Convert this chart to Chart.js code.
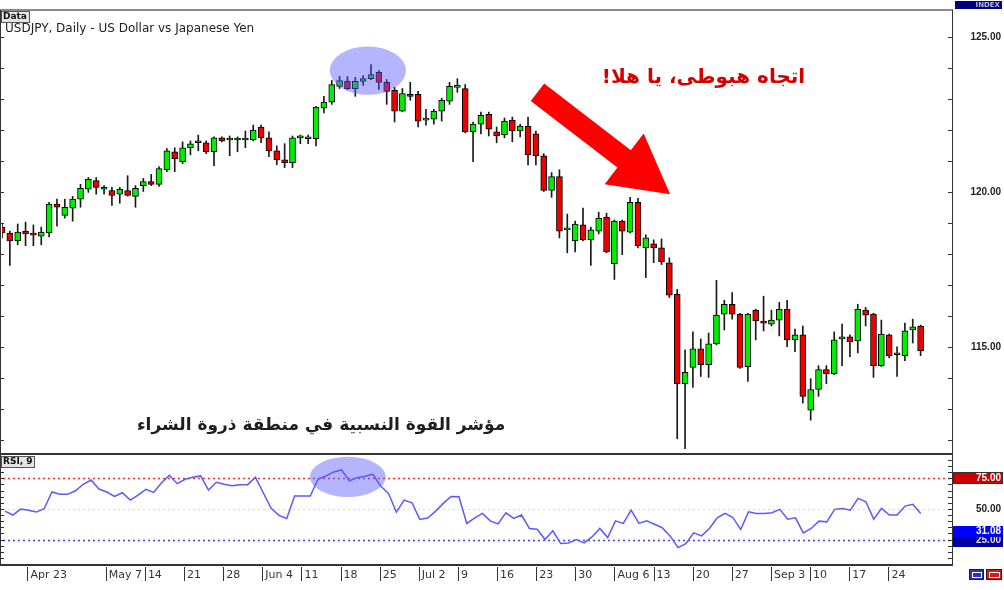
<!DOCTYPE html>
<html lang="en">
<head>
<meta charset="UTF-8">
<title>USDJPY, Daily</title>
<script src="https://cdn.jsdelivr.net/npm/chart.js"></script>
<style>
    body {
        margin: 0;
        padding: 0;
        background: #fff;
        width: 1004px;
        height: 590px;
        overflow: hidden;
        position: relative;
    }
    #priceChart { position: absolute; left: 0; top: 0; }
    #rsiChart { position: absolute; left: 0; top: 454px; }
</style>
</head>
<body>
<canvas id="priceChart" width="1004" height="455"></canvas>
<canvas id="rsiChart" width="1004" height="136"></canvas>
<script>
// trading days shown on the chart
var dates = [
    'Apr 18','Apr 19','Apr 20',
    'Apr 23','Apr 24','Apr 25','Apr 26','Apr 27',
    'Apr 30','May 1','May 2','May 3','May 4',
    'May 7','May 8','May 9','May 10','May 11',
    'May 14','May 15','May 16','May 17','May 18',
    'May 21','May 22','May 23','May 24','May 25',
    'May 28','May 29','May 30','May 31','Jun 1',
    'Jun 4','Jun 5','Jun 6','Jun 7','Jun 8',
    'Jun 11','Jun 12','Jun 13','Jun 14','Jun 15',
    'Jun 18','Jun 19','Jun 20','Jun 21','Jun 22',
    'Jun 25','Jun 26','Jun 27','Jun 28','Jun 29',
    'Jul 2','Jul 3','Jul 4','Jul 5','Jul 6',
    'Jul 9','Jul 10','Jul 11','Jul 12','Jul 13',
    'Jul 16','Jul 17','Jul 18','Jul 19','Jul 20',
    'Jul 23','Jul 24','Jul 25','Jul 26','Jul 27',
    'Jul 30','Jul 31','Aug 1','Aug 2','Aug 3',
    'Aug 6','Aug 7','Aug 8','Aug 9','Aug 10',
    'Aug 13','Aug 14','Aug 15','Aug 16','Aug 17',
    'Aug 20','Aug 21','Aug 22','Aug 23','Aug 24',
    'Aug 27','Aug 28','Aug 29','Aug 30','Aug 31',
    'Sep 3','Sep 4','Sep 5','Sep 6','Sep 7',
    'Sep 10','Sep 11','Sep 12','Sep 13','Sep 14',
    'Sep 17','Sep 18','Sep 19','Sep 20','Sep 21',
    'Sep 24','Sep 25','Sep 26','Sep 27','Sep 28'
];

var opens = [
    118.88,118.69,118.43,118.75,118.64,118.59,118.69,119.62,119.26,119.49,
    119.78,120.10,120.38,120.10,120.06,119.94,120.06,119.87,120.22,120.35,
    120.26,120.73,121.31,120.99,121.44,121.60,121.60,121.31,121.76,121.69,
    121.69,121.69,121.69,122.11,121.76,121.34,121.05,120.96,121.76,121.73,
    121.73,122.72,122.91,123.42,123.58,123.35,123.58,123.67,123.87,123.55,
    123.29,122.62,123.16,123.16,122.33,122.36,122.62,122.94,123.39,123.35,
    121.95,122.20,122.52,121.95,121.85,122.33,121.98,122.14,121.89,121.18,
    120.06,120.51,118.79,118.43,118.95,118.47,118.75,119.20,117.70,119.07,
    118.72,119.68,118.21,118.34,118.21,117.73,116.71,113.83,114.35,114.95,
    114.44,115.11,116.07,116.39,116.07,114.38,116.20,115.85,115.75,115.88,
    116.23,115.24,115.40,112.97,113.64,114.28,114.15,115.27,115.34,115.21,
    116.20,116.07,114.41,115.40,114.76,114.73,115.56,115.69
];
var highs = [
    118.98,118.75,118.98,119.04,118.95,118.88,119.68,119.78,119.78,119.87,
    120.26,120.48,120.48,120.22,120.16,120.16,120.54,120.22,120.45,120.58,
    120.83,121.41,121.44,121.63,121.66,121.85,121.66,121.79,121.79,121.82,
    121.79,121.98,122.17,122.17,121.95,121.50,121.57,121.82,121.85,121.85,
    122.78,123.10,123.61,123.74,123.74,123.71,123.77,124.12,123.93,123.64,
    123.39,123.35,123.55,123.26,122.68,122.68,123.04,123.55,123.67,123.48,
    122.27,122.59,122.59,122.11,122.40,122.43,122.20,122.43,121.98,121.25,
    120.64,120.73,119.30,119.07,119.49,118.88,119.36,119.33,119.11,119.11,
    119.84,119.81,118.63,118.47,118.50,117.89,116.87,114.92,115.50,115.27,
    115.46,117.16,116.52,116.77,116.10,116.10,116.23,116.65,116.20,116.45,
    116.52,115.59,115.69,113.99,114.41,114.41,115.50,115.75,115.40,116.39,
    116.29,116.10,115.88,115.43,115.02,115.78,115.91,115.72
];
var lows = [
    118.53,117.64,118.31,118.28,118.28,118.31,118.56,118.91,119.17,119.07,
    119.52,120.00,119.94,119.94,119.58,119.65,119.88,119.52,120.03,120.22,
    120.19,120.67,120.67,120.93,121.21,121.34,121.25,120.86,121.63,121.18,
    121.31,121.44,121.66,121.60,121.15,120.89,120.80,120.80,121.57,121.57,
    121.50,122.56,122.84,123.35,123.32,123.10,123.45,123.64,123.32,122.84,
    122.27,122.60,122.97,122.11,122.17,122.20,122.30,122.84,123.23,121.92,
    120.99,121.89,121.82,121.60,121.76,121.63,121.79,120.89,120.89,120.03,
    119.84,118.53,118.05,118.08,118.43,117.64,118.66,118.05,117.19,117.99,
    118.69,118.21,117.25,117.73,117.67,116.61,112.05,111.50,113.71,114.06,
    114.03,115.08,115.56,115.91,114.32,113.90,115.24,115.53,115.69,115.37,
    115.02,114.86,113.20,112.65,113.42,113.83,114.12,114.41,114.70,114.82,
    115.69,114.03,114.38,114.66,114.06,114.57,115.14,114.73
];
var closes = [
    118.69,118.43,118.72,118.66,118.62,118.72,119.62,119.52,119.52,119.78,
    120.13,120.42,120.16,120.10,119.90,120.10,119.90,120.13,120.35,120.26,
    120.77,121.34,121.09,121.44,121.57,121.66,121.31,121.76,121.66,121.69,
    121.69,121.69,122.01,121.76,121.34,121.05,120.96,121.76,121.76,121.73,
    122.75,122.91,123.48,123.61,123.35,123.58,123.67,123.80,123.55,123.26,
    122.62,123.19,123.10,122.30,122.33,122.62,122.97,123.42,123.39,121.95,
    122.20,122.49,122.04,121.82,122.30,121.98,122.14,121.21,121.18,120.06,
    120.51,118.75,118.79,118.98,118.47,118.79,119.17,118.08,119.07,118.75,
    119.68,118.28,118.53,118.21,117.76,116.68,113.83,114.19,114.95,114.44,
    115.11,116.04,116.39,116.07,114.35,116.07,115.85,115.78,115.88,116.23,
    115.24,115.40,113.42,113.64,114.28,114.15,115.24,115.34,115.18,116.23,
    116.04,114.41,115.43,114.73,114.76,115.53,115.66,114.89
];

// RSI(9)
var rsi = [
    48.2,45.0,49.8,48.8,47.4,50.1,63.8,61.9,61.9,64.8,
    70.1,73.6,66.2,63.8,60.2,63.2,57.2,61.3,66.0,63.5,
    71.4,77.4,70.6,74.2,75.8,76.9,65.4,71.7,70.1,68.9,
    69.8,69.8,75.8,63.2,50.4,44.7,42.2,60.5,60.5,60.5,
    74.4,76.9,80.2,81.8,73.0,75.5,76.6,78.3,68.7,62.7,
    47.4,57.2,55.0,41.4,42.5,48.0,54.5,60.2,59.9,38.1,
    42.5,46.3,40.2,37.8,46.8,42.2,45.0,34.0,33.4,25.0,
    32.1,21.7,22.2,25.0,22.2,27.1,34.0,26.6,40.2,38.1,
    49.0,38.1,40.2,37.5,34.5,27.7,18.4,21.7,30.4,28.0,
    34.0,42.7,46.3,43.0,33.2,47.6,46.3,46.3,46.8,49.6,
    41.6,42.7,30.4,34.0,40.0,39.4,49.6,50.4,49.0,58.6,
    55.8,41.6,50.4,45.0,45.0,52.3,53.7,46.3
];
var rsiLevels = [75, 50, 25];
var rsiLast = 31.08;

// x axis labels (weekly)
var tickDates = ['Apr 23','May 7','May 14','May 21','May 28','Jun 4','Jun 11','Jun 18','Jun 25',
    'Jul 2','Jul 9','Jul 16','Jul 23','Jul 30','Aug 6','Aug 13','Aug 20','Aug 27',
    'Sep 3','Sep 10','Sep 17','Sep 24'];
var tickLabels = ['Apr 23','May 7','14','21','28','Jun 4','11','18','25',
    'Jul 2','9','16','23','30','Aug 6','13','20','27',
    'Sep 3','10','17','24'];

// empty slots on the right (chart shift)
var labels = dates.concat(['', '', '', '']);

var GREEN = '#00ee00';
var RED = '#ee0000';
var bodyColors = opens.map(function (o, i) { return closes[i] >= o ? GREEN : RED; });

// annotations, anchored in data units (category index, price / rsi value)
var notes = {
    topEllipse: { x: 46.6, y: 123.93, rx: 4.85, ry: 0.78 },
    rsiEllipse: { x: 43.8, y: 76.1, rx: 4.85, ry: 16.4 },
    arrowFrom: { x: 68.2, y: 123.23 },
    arrowTo: { x: 85.1, y: 119.94 },
    trendText: { x: 102.3, y: 123.71, text: 'اتجاه هبوطى، يا هلا!' },
    rsiText: { x: 64.1, y: 112.46, text: 'مؤشر القوة النسبية في منطقة ذروة الشراء' }
};

var RIGHT_EDGE = 952;
var NUM_FONT = 'bold 10px "Liberation Sans", Arial, sans-serif';

function drawBox(ctx, x, y, w, h, fill, stroke) {
    ctx.fillStyle = fill;
    ctx.fillRect(x, y, w, h);
    if (stroke) {
        ctx.strokeStyle = stroke;
        ctx.lineWidth = 1;
        ctx.strokeRect(x + 0.5, y + 0.5, w - 1, h - 1);
    }
}

function drawEllipse(chart, e) {
    var xs = chart.scales.x, ys = chart.scales.y, ctx = chart.ctx;
    var cx = xs.getPixelForValue(e.x);
    var cy = ys.getPixelForValue(e.y);
    var rx = Math.abs(xs.getPixelForValue(e.x + e.rx) - cx);
    var ry = Math.abs(ys.getPixelForValue(e.y + e.ry) - cy);
    ctx.save();
    ctx.fillStyle = 'rgba(90, 90, 255, 0.45)';
    ctx.beginPath();
    ctx.ellipse(cx, cy, rx, ry, 0, 0, Math.PI * 2);
    ctx.fill();
    ctx.restore();
}

var pricePlugin = {
    id: 'priceOverlay',
    afterDatasetsDraw: function (chart) {
        var ctx = chart.ctx, xs = chart.scales.x, ys = chart.scales.y;
        drawEllipse(chart, notes.topEllipse);

        // red arrow
        var x0 = xs.getPixelForValue(notes.arrowFrom.x), y0 = ys.getPixelForValue(notes.arrowFrom.y);
        var x1 = xs.getPixelForValue(notes.arrowTo.x), y1 = ys.getPixelForValue(notes.arrowTo.y);
        var dx = x1 - x0, dy = y1 - y0, len = Math.sqrt(dx * dx + dy * dy);
        var ux = dx / len, uy = dy / len, nx = -uy, ny = ux;
        var shaft = 11, headLen = 58, head = 32;
        var bx = x1 - ux * headLen, by = y1 - uy * headLen;
        ctx.save();
        ctx.fillStyle = '#ff0000';
        ctx.beginPath();
        ctx.moveTo(x0 + nx * shaft, y0 + ny * shaft);
        ctx.lineTo(bx + nx * shaft, by + ny * shaft);
        ctx.lineTo(bx + nx * head, by + ny * head);
        ctx.lineTo(x1, y1);
        ctx.lineTo(bx - nx * head, by - ny * head);
        ctx.lineTo(bx - nx * shaft, by - ny * shaft);
        ctx.lineTo(x0 - nx * shaft, y0 - ny * shaft);
        ctx.closePath();
        ctx.fill();

        // arabic captions
        ctx.direction = 'rtl';
        ctx.textAlign = 'right';
        ctx.textBaseline = 'middle';
        ctx.font = 'bold 20px "DejaVu Sans", sans-serif';
        ctx.fillStyle = '#d40000';
        ctx.fillText(notes.trendText.text, xs.getPixelForValue(notes.trendText.x), ys.getPixelForValue(notes.trendText.y));
        ctx.font = 'bold 17px "DejaVu Sans", sans-serif';
        ctx.fillStyle = '#1e1e1e';
        ctx.fillText(notes.rsiText.text, xs.getPixelForValue(notes.rsiText.x), ys.getPixelForValue(notes.rsiText.y));
        ctx.restore();
    },
    afterDraw: function (chart) {
        var ctx = chart.ctx, ys = chart.scales.y;
        ctx.save();
        // frame
        ctx.fillStyle = '#8a8a8a';
        ctx.fillRect(0, 9, RIGHT_EDGE + 1, 2);
        ctx.fillStyle = '#333';
        ctx.fillRect(0, 453, RIGHT_EDGE + 1, 2);
        ctx.fillRect(0, 10, 1, 445);
        ctx.fillRect(RIGHT_EDGE, 10, 1, 445);

        // small ticks on both sides
        for (var v = Math.ceil(ys.min); v <= Math.floor(ys.max); v++) {
            var py = Math.round(ys.getPixelForValue(v));
            ctx.fillRect(RIGHT_EDGE - 4, py, 4, 1);
            ctx.fillRect(0, py, 4, 1);
        }

        // "Data" tag and title
        drawBox(ctx, 1, 11, 29, 12, '#e4e4e4', '#555');
        ctx.fillStyle = '#111';
        ctx.font = 'bold 9px "DejaVu Sans", sans-serif';
        ctx.textAlign = 'left';
        ctx.textBaseline = 'middle';
        ctx.fillText('Data', 3, 17);
        ctx.font = '12px "DejaVu Sans", sans-serif';
        ctx.fillStyle = '#222';
        ctx.fillText('USDJPY, Daily - US Dollar vs Japanese Yen', 5, 29);

        // INDEX tag
        drawBox(ctx, 955, 1, 47, 8, '#000080');
        ctx.fillStyle = '#b8b8e8';
        ctx.font = 'bold 7px "DejaVu Sans", sans-serif';
        ctx.textAlign = 'right';
        ctx.fillText('INDEX', 1000, 5);
        ctx.restore();
    }
};

new Chart(document.getElementById('priceChart'), {
    type: 'bar',
    data: {
        labels: labels,
        datasets: [
            {
                label: 'wick',
                data: lows.map(function (l, i) { return [l, highs[i]]; }),
                backgroundColor: '#1a1a1a',
                barThickness: 1,
                grouped: false,
                order: 2
            },
            {
                label: 'body',
                data: opens.map(function (o, i) { return [o, closes[i]]; }),
                backgroundColor: bodyColors,
                borderColor: '#000',
                borderWidth: 1,
                borderSkipped: false,
                barThickness: 6,
                minBarLength: 2,
                grouped: false,
                order: 1
            }
        ]
    },
    options: {
        responsive: false,
        animation: false,
        devicePixelRatio: 1,
        layout: { padding: { left: 2, right: 3, top: 12, bottom: 2 } },
        plugins: { legend: { display: false }, tooltip: { enabled: false } },
        scales: {
            x: { display: false, offset: false },
            y: {
                position: 'right',
                min: 111.72,
                max: 125.82,
                afterFit: function (s) { s.width = 49; },
                grid: { display: false },
                border: { display: false },
                ticks: {
                    stepSize: 1,
                    crossAlign: 'far',
                    padding: 0,
                    color: '#222',
                    font: { family: 'Liberation Sans', size: 10, weight: 'bold' },
                    callback: function (v) { return v % 5 === 0 ? v.toFixed(2) : ''; }
                }
            }
        }
    },
    plugins: [pricePlugin]
});

var rsiPlugin = {
    id: 'rsiOverlay',
    beforeDatasetsDraw: function (chart) {
        var ctx = chart.ctx, ys = chart.scales.y, a = chart.chartArea;
        var styles = { 75: ['#ff2a2a', [2, 3], 1.5], 50: ['#d8d8d8', [2, 3], 1], 25: ['#4040ff', [2, 3], 1.5] };
        ctx.save();
        rsiLevels.forEach(function (lv) {
            var st = styles[lv];
            var py = Math.round(ys.getPixelForValue(lv)) + 0.5;
            ctx.strokeStyle = st[0];
            ctx.setLineDash(st[1]);
            ctx.lineWidth = st[2];
            ctx.beginPath();
            ctx.moveTo(a.left - 2, py);
            ctx.lineTo(a.right, py);
            ctx.stroke();
        });
        ctx.restore();
    },
    afterDatasetsDraw: function (chart) {
        drawEllipse(chart, notes.rsiEllipse);
    },
    afterDraw: function (chart) {
        var ctx = chart.ctx, xs = chart.scales.x, ys = chart.scales.y, a = chart.chartArea;
        ctx.save();
        // frame
        ctx.fillStyle = '#333';
        ctx.fillRect(0, 0, RIGHT_EDGE + 1, 1);
        ctx.fillRect(0, a.bottom, RIGHT_EDGE + 1, 2);
        ctx.fillRect(0, 0, 1, a.bottom + 1);
        ctx.fillRect(RIGHT_EDGE, 0, 1, a.bottom + 1);
        for (var v = 10; v <= 90; v += 5) {
            var py = Math.round(ys.getPixelForValue(v));
            ctx.fillRect(RIGHT_EDGE - 4, py, 4, 1);
            ctx.fillRect(0, py, 4, 1);
        }

        // "RSI, 9" tag
        drawBox(ctx, 1, 2, 34, 12, '#e4e4e4', '#555');
        ctx.fillStyle = '#111';
        ctx.font = 'bold 9px "DejaVu Sans", sans-serif';
        ctx.textAlign = 'left';
        ctx.textBaseline = 'middle';
        ctx.fillText('RSI, 9', 3, 8);

        // value tags on the right
        ctx.font = NUM_FONT;
        ctx.textAlign = 'right';
        var y75 = ys.getPixelForValue(75), y50 = ys.getPixelForValue(50);
        var y25 = ys.getPixelForValue(25), yLast = ys.getPixelForValue(rsiLast);
        drawBox(ctx, RIGHT_EDGE + 1, Math.round(y75) - 6, 50, 12, '#cc0000', '#333');
        ctx.fillStyle = '#fff';
        ctx.fillText('75.00', 1001, y75);
        ctx.fillStyle = '#222';
        ctx.fillText('50.00', 1001, y50);
        drawBox(ctx, RIGHT_EDGE + 1, Math.round(y25) - 4, 50, 11, '#0000a8');
        ctx.fillStyle = '#dde';
        ctx.fillText('25.00', 1001, y25 + 1);
        drawBox(ctx, RIGHT_EDGE + 1, Math.round(yLast) - 6, 50, 11, '#0000ff');
        ctx.fillStyle = '#fff';
        ctx.fillText(rsiLast.toFixed(2), 1001, yLast - 1);

        // date tick marks
        ctx.fillStyle = '#333';
        tickDates.forEach(function (d) {
            var px = Math.round(xs.getPixelForValue(dates.indexOf(d)));
            ctx.fillRect(px - 1, a.bottom + 3, 1, 14);
        });

        // little buttons bottom right
        drawBox(ctx, 969, 115, 15, 11, '#3030b8', '#222');
        drawBox(ctx, 986, 115, 16, 11, '#cc2020', '#222');
        ctx.strokeStyle = '#fff';
        ctx.lineWidth = 1;
        ctx.strokeRect(972.5, 118.5, 9, 5);
        ctx.strokeRect(989.5, 118.5, 10, 5);
        ctx.restore();
    }
};

new Chart(document.getElementById('rsiChart'), {
    type: 'line',
    data: {
        labels: labels,
        datasets: [{
            label: 'RSI',
            data: rsi,
            borderColor: '#5a5aff',
            borderWidth: 1.5,
            pointRadius: 0,
            tension: 0,
            fill: false
        }]
    },
    options: {
        responsive: false,
        animation: false,
        devicePixelRatio: 1,
        layout: { padding: { left: 2, right: 3, top: 1, bottom: 0 } },
        plugins: { legend: { display: false }, tooltip: { enabled: false } },
        scales: {
            x: {
                offset: false,
                afterFit: function (s) { s.height = 26; },
                grid: { display: false, drawTicks: false },
                border: { display: false },
                ticks: {
                    autoSkip: false,
                    maxRotation: 0,
                    minRotation: 0,
                    align: 'start',
                    labelOffset: 2,
                    padding: 5,
                    color: '#333',
                    font: { family: 'DejaVu Sans', size: 11 },
                    callback: function (val, i) {
                        var k = tickDates.indexOf(labels[i]);
                        return k >= 0 ? tickLabels[k] : '';
                    }
                }
            },
            y: {
                position: 'right',
                min: 5,
                max: 94,
                afterFit: function (s) { s.width = 49; },
                grid: { display: false },
                border: { display: false },
                ticks: { display: false }
            }
        }
    },
    plugins: [rsiPlugin]
});
</script>
</body>
</html>
